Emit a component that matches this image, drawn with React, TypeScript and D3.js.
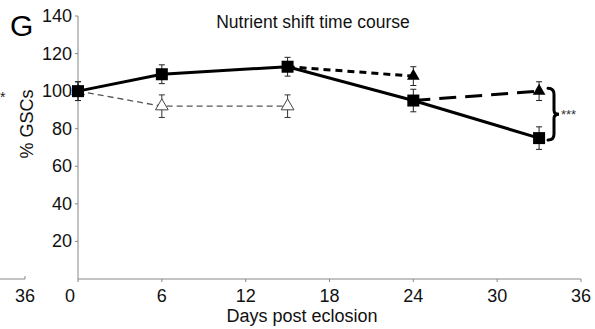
import React from "react";
import * as d3 from "d3";

// series: fed -> fed (solid squares)
const fedDays = [0, 6, 15, 24, 33];
const fedVals = [100, 109, 113, 95, 75];
const fedErr = [5, 5, 5, 6, 6];

// shifted series (filled triangles)
const shiftADays = [15, 24];
const shiftAVals = [113, 108];
const shiftAErr = [5, 5];
const shiftBDays = [24, 33];
const shiftBVals = [95, 100];
const shiftBErr = [6, 5];

// open triangles
const openDays = [0, 6, 15];
const openVals = [100, 92, 92];
const openErr = [5, 6, 6];

const xTicks = [0, 6, 12, 18, 24, 30, 36];
const yTicks = [20, 40, 60, 80, 100, 120, 140];

const W = 595;
const H = 329;
const font = "Liberation Sans, Arial, sans-serif";

const x = d3.scaleLinear().domain([0, 36]).range([78, 581]);
const y = d3.scaleLinear().domain([0, 140]).range([279, 16]);

const line = d3
  .line<[number, number]>()
  .x((d) => x(d[0]))
  .y((d) => y(d[1]));

const zip = (a: number[], b: number[]) => a.map((v, i) => [v, b[i]] as [number, number]);

const tri = d3.symbol().type(d3.symbolTriangle).size(70);

const ErrBars = ({ days, vals, err, color }: { days: number[]; vals: number[]; err: number[]; color: string }) => (
  <g stroke={color} strokeWidth={1}>
    {days.map((d, i) => (
      <g key={i}>
        <line x1={x(d)} x2={x(d)} y1={y(vals[i] - err[i])} y2={y(vals[i] + err[i])} />
        <line x1={x(d) - 3} x2={x(d) + 3} y1={y(vals[i] - err[i])} y2={y(vals[i] - err[i])} />
        <line x1={x(d) - 3} x2={x(d) + 3} y1={y(vals[i] + err[i])} y2={y(vals[i] + err[i])} />
      </g>
    ))}
  </g>
);

export default function App() {
  const by = y(100) - 3;
  const ey = y(75) + 2;
  const bx = 548;
  const my = (by + ey) / 2;
  const brace = `M${bx},${by} q6,0 6,6 l0,${my - by - 10} q0,4 5,4 q-5,0 -5,4 l0,${ey - my - 10} q0,6 -6,6`;
  return (
    <svg width={W} height={H} style={{ position: "absolute", left: 0, top: 0, background: "#fff" }} fontFamily={font}>
      {/* remnant of neighbouring panel */}
      <text x={0} y={102} fontSize={14} fill="#222">*</text>
      <line x1={0} x2={25} y1={279} y2={279} stroke="#888" />
      <line x1={25} x2={25} y1={276} y2={279} stroke="#888" />
      <text x={25} y={302} fontSize={18} textAnchor="middle" fill="#111">36</text>

      <text x={10} y={36} fontSize={30} fill="#000">G</text>
      <text x={313} y={28} fontSize={17.5} textAnchor="middle" fill="#111">Nutrient shift time course</text>

      {/* axes */}
      <line x1={x(0)} x2={x(0)} y1={y(140)} y2={y(0)} stroke="#888" />
      <line x1={x(0)} x2={x(36)} y1={y(0)} y2={y(0)} stroke="#888" />
      {yTicks.map((t) => (
        <g key={t}>
          <line x1={x(0) - 3} x2={x(0)} y1={y(t)} y2={y(t)} stroke="#888" />
          <text x={x(0) - 6} y={y(t) + 6} fontSize={18} textAnchor="end" fill="#111">{t}</text>
        </g>
      ))}
      {xTicks.map((t) => (
        <g key={t}>
          <line x1={x(t)} x2={x(t)} y1={y(0)} y2={y(0) + 3} stroke="#888" />
          <text x={x(t) - (t === 0 ? 8 : 0)} y={y(0) + 23} fontSize={18} textAnchor="middle" fill="#111">{t}</text>
        </g>
      ))}
      <text x={302} y={322} fontSize={18} textAnchor="middle" fill="#111">Days post eclosion</text>
      <text transform={`translate(33,124) rotate(-90)`} fontSize={18} textAnchor="middle" fill="#111">% GSCs</text>

      {/* open triangles */}
      <path d={line(zip(openDays, openVals)) || ""} fill="none" stroke="#555" strokeWidth={1.3} strokeDasharray="6,4" />
      <ErrBars days={openDays} vals={openVals} err={openErr} color="#333" />
      {openDays.map((d, i) => (
        <path key={i} d={tri() || ""} transform={`translate(${x(d)},${y(openVals[i])})`} fill="#fff" stroke="#444" strokeWidth={1} />
      ))}

      {/* shifted series */}
      <path d={line(zip(shiftADays, shiftAVals)) || ""} fill="none" stroke="#000" strokeWidth={3} strokeDasharray="7,5" />
      <path d={line(zip(shiftBDays, shiftBVals)) || ""} fill="none" stroke="#000" strokeWidth={3} strokeDasharray="17,9" />
      <ErrBars days={shiftADays.slice(1)} vals={shiftAVals.slice(1)} err={shiftAErr.slice(1)} color="#222" />
      <ErrBars days={shiftBDays.slice(1)} vals={shiftBVals.slice(1)} err={shiftBErr.slice(1)} color="#222" />
      {[...zip(shiftADays, shiftAVals).slice(1), ...zip(shiftBDays, shiftBVals).slice(1)].map((p, i) => (
        <path key={i} d={tri() || ""} transform={`translate(${x(p[0])},${y(p[1])})`} fill="#000" />
      ))}

      {/* fed series */}
      <path d={line(zip(fedDays, fedVals)) || ""} fill="none" stroke="#000" strokeWidth={3} />
      <ErrBars days={fedDays} vals={fedVals} err={fedErr} color="#222" />
      {fedDays.map((d, i) => (
        <rect key={i} x={x(d) - 6} y={y(fedVals[i]) - 6} width={12} height={12} fill="#000" />
      ))}

      {/* significance brace */}
      <path d={brace} fill="none" stroke="#000" strokeWidth={3} strokeLinecap="round" />
      <text x={561} y={119} fontSize={13} fill="#333">***</text>
    </svg>
  );
}
